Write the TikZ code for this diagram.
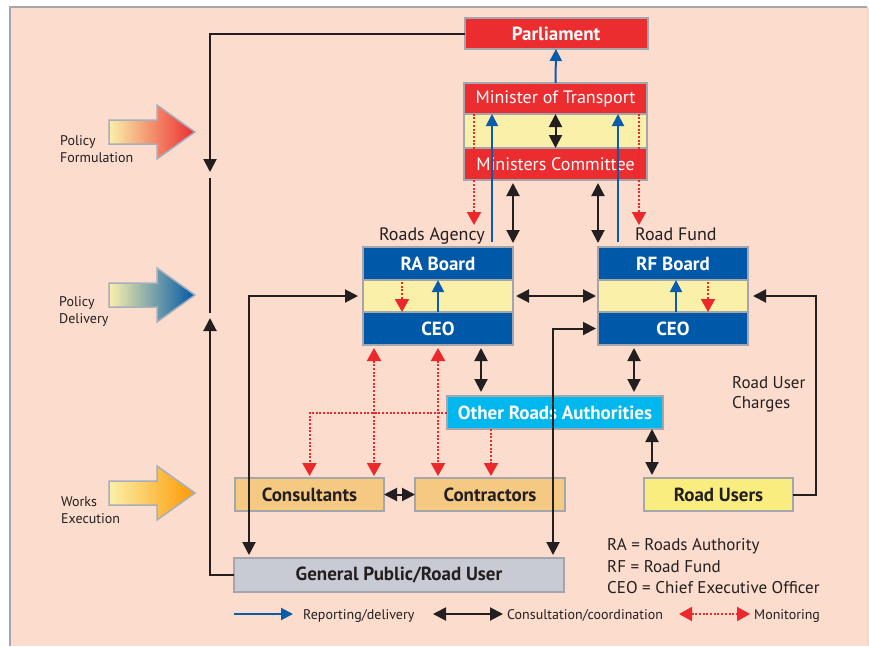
\documentclass[tikz,border=0pt]{standalone}
\usepackage{fontspec}
\setmainfont{PT Sans}
\usepackage{tikz}
\usetikzlibrary{positioning,arrows.meta}
\definecolor{bgpink}{RGB}{251,220,205}
\definecolor{frame}{RGB}{163,166,172}
\definecolor{govred}{RGB}{236,45,48}
\definecolor{agblue}{RGB}{0,89,168}
\definecolor{band}{RGB}{250,240,170}
\definecolor{oracyan}{RGB}{0,183,238}
\definecolor{works}{RGB}{245,201,130}
\definecolor{users}{RGB}{250,237,128}
\definecolor{public}{RGB}{200,203,211}
\definecolor{repblue}{RGB}{10,92,170}
\definecolor{monred}{RGB}{236,40,45}
\definecolor{ink}{RGB}{35,31,32}
\definecolor{arrowedge}{RGB}{165,175,190}
\newcommand{\ptbig}{\fontsize{17}{20}\selectfont}
\newcommand{\ptmid}{\fontsize{18}{21}\selectfont}
\newcommand{\ptbold}{\fontsize{19}{22}\selectfont\bfseries}
\newcommand{\ptsmall}{\fontsize{14}{17}\selectfont}
\tikzset{
	box/.style={draw=frame, line width=2pt, rectangle, outer sep=0pt, inner sep=0pt, minimum width=150pt, minimum height=33pt, font=\ptbold, text=ink},
	redbox/.style={box, fill=govred, text=white, minimum width=183pt, minimum height=31pt, font=\ptmid},
	bluebox/.style={box, fill=agblue, text=white},
	bandbox/.style={box, fill=band},
	lbl/.style={inner sep=0pt, text=ink, align=left, font=\ptsmall},
	feed/.style={->, >={Triangle[length=13pt,width=13pt]}, line width=2pt, ink},
	consult/.style={feed, <->},
	report/.style={->, >={Triangle[length=12pt,width=12pt]}, line width=2pt, repblue},
	monline/.style={>={Triangle[length=13pt,width=14pt]}, line width=2pt, monred, dash pattern=on 2pt off 1.7pt},
	monitor/.style={monline, ->},
	mutual/.style={monline, <->}
}

\begin{document}
\begin{tikzpicture}[x=1pt, y=-1pt]
	\useasboundingbox (0,0) rectangle (869,646);
	\fill[bgpink] (10,7) rectangle (869,646);
	\draw[frame, line width=2pt] (10,646) -- (10,7) -- (867,7);
	\draw[frame!40, line width=1pt] (867,7) -- (867,646);

	\shade[draw=arrowedge, line width=1.5pt, left color=band, right color=govred] (109,120) -- ++(48,0) -- ++(0,-15) -- ++(38,27) -- ++(-38,27) -- ++(0,-15) -- ++(-48,0) -- cycle;
	\shade[draw=arrowedge, line width=1.5pt, left color=band, right color=agblue] (109,283) -- ++(48,0) -- ++(0,-15) -- ++(38,27) -- ++(-38,27) -- ++(0,-15) -- ++(-48,0) -- cycle;
	\shade[draw=arrowedge, line width=1.5pt, left color=band, right color=orange!80!yellow] (109,481) -- ++(48,0) -- ++(0,-15) -- ++(38,27) -- ++(-38,27) -- ++(0,-15) -- ++(-48,0) -- cycle;
	\node[lbl, anchor=west] (form) at (60,149) {Policy\\Formulation};
	\node[lbl, anchor=west] (deliv) at (59,311) {Policy\\Delivery};
	\node[lbl, anchor=west] (exec) at (61,510) {Works\\Execution};

	\node[redbox, font=\ptbold] (parl) at (556,33.5) {Parliament};
	\node[redbox] (mot) at (555.5,98.5) {Minister of Transport};
	\node[bandbox, minimum width=183pt, minimum height=34pt, below=0pt of mot] (motband) {};
	\node[redbox, minimum height=32pt, below=0pt of motband] (mc) {Ministers Committee};

	\node[bluebox] (rab) at (438,263.5) {RA Board};
	\node[bandbox, minimum height=32pt, below=0pt of rab] (raband) {};
	\node[bluebox, below=0pt of raband] (raceo) {CEO};
	\node[bluebox] (rfb) at (673,263.5) {RF Board};
	\node[bandbox, minimum height=32pt, below=0pt of rfb] (rfband) {};
	\node[bluebox, below=0pt of rfband] (rfceo) {CEO};
	\node[lbl, font=\ptmid, anchor=base east] (ratitle) at ([xshift=-28pt, yshift=7pt] rab.north east) {Roads Agency};
	\node[lbl, font=\ptmid, anchor=base west] (rftitle) at ([xshift=37pt, yshift=7pt] rfb.north west) {Road Fund};

	\node[box, fill=oracyan, text=white, minimum width=216pt] (ora) at (555,412.5) {Other Roads Authorities};
	\node[box, fill=works, minimum width=149pt] (cons) at (309.5,494.5) {Consultants};
	\node[box, fill=works, right=31pt of cons] (contr) {Contractors};
	\node[box, fill=users, minimum width=149pt] (ru) at (718.5,494.5) {Road Users};
	\node[box, fill=public, minimum width=330pt, minimum height=34pt] (gp) at (399,575) {General Public/Road User};
	\node[lbl, font=\ptbig, anchor=west] (charges) at (732,394) {Road User\\Charges};

	\coordinate (form-in) at (210,172);
	\coordinate (deliv-a) at (210,178);
	\coordinate (deliv-b) at (210,313);
	\coordinate (exec-in) at (210,318);
	\draw[feed] (parl.west) -| (form-in);
	\draw[line width=2pt, ink] (deliv-a) -- (deliv-b);
	\draw[feed] (gp.west) -| (exec-in);

	\draw[report] (mot.north) -- (parl.south);
	\draw[consult] (mot.south) -- (mc.north);
	\coordinate (ra-rep) at ([xshift=54pt] rab.north);
	\coordinate (rf-rep) at ([xshift=-55pt] rfb.north);
	\draw[report, shorten <=5pt] (ra-rep) -- (ra-rep |- mot.south);
	\draw[report, shorten <=5pt] (rf-rep) -- (rf-rep |- mot.south);
	\coordinate (ra-mon) at ([xshift=-81.5pt, yshift=4pt] mot.south);
	\coordinate (rf-mon) at ([xshift=83.5pt, yshift=4pt] mot.south);
	\draw[monitor, shorten >=22pt] (ra-mon) -- (ra-mon |- rab.north);
	\draw[monitor, shorten >=22pt] (rf-mon) -- (rf-mon |- rfb.north);
	\draw[consult, shorten <=3pt, shorten >=4pt] (mc.south -| rab.north east) -- (rab.north east);
	\draw[consult, shorten <=3pt, shorten >=4pt] (mc.south -| rfb.north west) -- (rfb.north west);

	\draw[monitor, shorten <=2pt] ([xshift=-36pt] raband.north) -- ([xshift=-36pt] raband.south);
	\draw[report] (raband.south) -- (raband.north);
	\draw[report] ([xshift=3pt] rfband.south) -- ([xshift=3pt] rfband.north);
	\draw[monitor, shorten <=2pt] ([xshift=35pt] rfband.north) -- ([xshift=35pt] rfband.south);
	\draw[consult, shorten <=3pt, shorten >=2pt] (raband.east) -- (rfband.west);

	\coordinate (gp-ra) at ([xshift=15pt] gp.north west);
	\coordinate (gp-rf) at ([xshift=-11pt] gp.north east);
	\draw[consult, shorten <=3pt, shorten >=5pt] (gp-ra) |- (raband.west);
	\draw[consult, shorten <=3pt, shorten >=2pt] (gp-rf) |- (rfceo.west);
	\draw[feed, shorten >=5pt] (ru.east) -- ++(23,0) |- (rfband.east);

	\coordinate (ra-ora) at ([xshift=43pt] raceo.south);
	\coordinate (rf-ora) at ([xshift=-39pt] rfceo.south);
	\coordinate (ora-ru) at ([xshift=97pt] ora.south);
	\draw[consult, shorten <=3pt, shorten >=4pt] (ra-ora) -- (ra-ora |- ora.north);
	\draw[consult, shorten <=3pt, shorten >=4pt] (rf-ora) -- (rf-ora |- ora.north);
	\draw[consult, shorten >=3pt] (ora-ru) -- (ora-ru |- ru.north);
	\draw[consult] (cons.east) -- (contr.west);

	\coordinate (ra-cons) at ([xshift=-64pt] raceo.south);
	\coordinate (ora-contr) at ([xshift=-64pt] ora.south);
	\draw[monitor, shorten >=2pt] (ora.west) -| (cons.north);
	\draw[mutual, shorten <=3pt, shorten >=2pt] (ra-cons) -- (ra-cons |- cons.north);
	\draw[mutual, shorten <=3pt, shorten >=2pt] (raceo.south) -- (raceo.south |- contr.north);
	\draw[monitor, shorten >=2pt] (ora-contr) -- (ora-contr |- contr.north);

	\node[lbl, font=\ptbig, anchor=base west] (key-ra) at (607,550) {RA = Roads Authority};
	\node[lbl, font=\ptbig, anchor=base west] (key-rf) at (607,572) {RF = Road Fund};
	\node[lbl, font=\ptbig, anchor=base west] (key-ceo) at (607,593) {CEO = Chief Executive Officer};

	\node[lbl, anchor=base west] (leg-rep) at (303,619) {Reporting/delivery};
	\node[lbl, anchor=base west] (leg-con) at (507,619) {Consultation/coordination};
	\node[lbl, anchor=base west] (leg-mon) at (754,619) {Monitoring};
	\draw[report] ([xshift=-69pt, yshift=5pt] leg-rep.base west) -- ([xshift=-10pt, yshift=5pt] leg-rep.base west);
	\draw[consult] ([xshift=-74pt, yshift=5pt] leg-con.base west) -- ([xshift=-4pt, yshift=5pt] leg-con.base west);
	\draw[mutual] ([xshift=-75pt, yshift=5pt] leg-mon.base west) -- ([xshift=-4pt, yshift=5pt] leg-mon.base west);
\end{tikzpicture}
\end{document}
